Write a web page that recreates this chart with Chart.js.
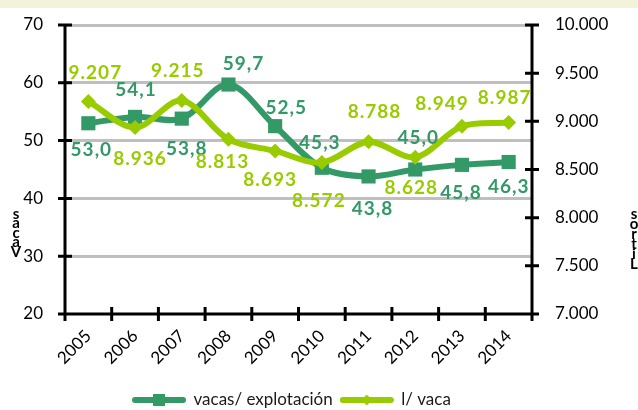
<!DOCTYPE html>
<html><head><meta charset="utf-8">
<script src="https://cdn.jsdelivr.net/npm/chart.js@4.4.1/dist/chart.umd.min.js"></script>
<style>html,body{margin:0;padding:0;background:#fff}</style>
</head><body>
<canvas id="c" width="638" height="410"></canvas>
<script>
// ---- data ----
const categories = ['2005','2006','2007','2008','2009','2010','2011','2012','2013','2014'];
const vacasExplotacion = [53.0, 54.1, 53.8, 59.7, 52.5, 45.3, 43.8, 45.0, 45.8, 46.3];
const litrosVaca = [9207, 8936, 9215, 8813, 8693, 8572, 8788, 8628, 8949, 8987];
const seriesNames = ['vacas/ explotación', 'l/ vaca'];
const leftAxis = {min: 20, max: 70, step: 10};
const rightAxis = {min: 7000, max: 10000, step: 500};
const axisTitles = ['Vacas', 'Litros'];

// ---- styling (label offsets in px relative to the point) ----
const vacasLabelOffsets = [[3,27],[1,-27],[5,30],[15,-21],[11,-18],[-2,-25],[4,32],[3,-32],[-1,28],[0,25]];
const litrosLabelOffsets = [[7,-29],[5,31],[-4,-30],[-6,23],[-5,29],[-3,38],[6,-30],[-4,31],[-20,-22],[-4,-25]];
const DARK = '#339966', LIGHT = '#99cc00';
const FONT = 'Lato';

function fmtDec(v){ return v.toFixed(1).replace('.', ','); }
function fmtThou(v){ v = Math.round(v); const t = Math.floor(v/1000), r = v % 1000; return t > 0 ? t + '.' + String(r).padStart(3,'0') : String(r); }

function legendSample(color, shape){
  const c = document.createElement('canvas'); c.width = 54; c.height = 16;
  const g = c.getContext('2d');
  g.strokeStyle = color; g.lineWidth = 6; g.lineCap = 'round';
  g.beginPath(); g.moveTo(3, 8); g.lineTo(51, 8); g.stroke();
  g.fillStyle = color;
  if (shape === 'rect') { g.fillRect(21, 2, 12, 12); }
  else { g.beginPath(); g.moveTo(27, 2.5); g.lineTo(32.5, 8); g.lineTo(27, 13.5); g.lineTo(21.5, 8); g.closePath(); g.fill(); }
  return c;
}
const samples = [legendSample(DARK, 'rect'), legendSample(LIGHT, 'rectRot')];

const decoPlugin = {
  id: 'deco',
  afterLayout(chart){
    const lg = chart.legend;
    if (lg) { const h = lg.height; lg.left = 125; lg.top = 383.5; lg.bottom = lg.top + h; }
  },
  beforeDraw(chart){
    const ctx = chart.ctx; ctx.save();
    ctx.fillStyle = '#f2f3da'; ctx.fillRect(0, 0, chart.width, 8);
    ctx.restore();
  },
  beforeDatasetsDraw(chart){
    const ctx = chart.ctx, a = chart.chartArea;
    const x = chart.scales.x, y = chart.scales.y, y2 = chart.scales.y2;
    ctx.save();
    ctx.strokeStyle = '#000'; ctx.lineWidth = 3; ctx.lineCap = 'butt';
    ctx.beginPath();
    ctx.moveTo(a.left, a.top - 1.5); ctx.lineTo(a.left, a.bottom + 1.5);
    ctx.moveTo(a.right, a.top - 1.5); ctx.lineTo(a.right, a.bottom + 1.5);
    ctx.moveTo(a.left, a.bottom); ctx.lineTo(a.right, a.bottom);
    y.ticks.forEach(t => { const p = y.getPixelForValue(t.value); ctx.moveTo(a.left - 7, p); ctx.lineTo(a.left + 7, p); });
    y2.ticks.forEach(t => { const p = y2.getPixelForValue(t.value); ctx.moveTo(a.right - 7, p); ctx.lineTo(a.right + 7, p); });
    for (let i = 0; i <= categories.length; i++) { const p = x.getPixelForValue(i - 0.5); ctx.moveTo(p, a.bottom - 7); ctx.lineTo(p, a.bottom + 7); }
    ctx.stroke();
    // stacked axis titles
    ctx.fillStyle = '#000'; ctx.font = 'bold 15px ' + FONT; ctx.textAlign = 'center'; ctx.textBaseline = 'middle';
    const drawStack = (txt, cx, bottomY, step) => {
      [...txt].forEach((ch, i) => ctx.fillText(ch, cx, bottomY - i * step));
    };
    drawStack(axisTitles[0], 16, 252, 9.5);
    drawStack(axisTitles[1], 634, 264, 10);
    ctx.restore();
  },
  afterDatasetsDraw(chart){
    const ctx = chart.ctx; ctx.save();
    ctx.font = 'bold 19px ' + FONT; ctx.textAlign = 'center'; ctx.textBaseline = 'middle';
    try { ctx.letterSpacing = '1px'; } catch(e) {}
    const sets = [[0, vacasLabelOffsets, fmtDec], [1, litrosLabelOffsets, fmtThou]];
    sets.forEach(([di, offs, fmt]) => {
      const ds = chart.data.datasets[di]; const meta = chart.getDatasetMeta(di);
      ctx.fillStyle = ds.borderColor;
      meta.data.forEach((el, i) => ctx.fillText(fmt(ds.data[i]), el.x + offs[i][0], el.y + offs[i][1]));
    });
    ctx.restore();
  }
};

const fixPad = (s, w) => { s.width = w; s.paddingTop = 10; s.paddingBottom = 10; };

new Chart(document.getElementById('c'), {
  type: 'line',
  data: {
    labels: categories,
    datasets: [
      { label: seriesNames[0], data: vacasExplotacion, yAxisID: 'y', order: 1,
        borderColor: DARK, backgroundColor: DARK, borderWidth: 6, tension: 0.33,
        pointStyle: 'rect', pointRadius: 10, pointBackgroundColor: DARK, pointBorderWidth: 0, pointHoverRadius: 10 },
      { label: seriesNames[1], data: litrosVaca, yAxisID: 'y2', order: 0,
        borderColor: LIGHT, backgroundColor: LIGHT, borderWidth: 6, tension: 0.33,
        pointStyle: 'rectRot', pointRadius: 7.5, pointBackgroundColor: LIGHT, pointBorderWidth: 0, pointHoverRadius: 7.5 }
    ]
  },
  options: {
    responsive: false, animation: false, devicePixelRatio: 1,
    layout: { padding: { top: 25, left: 0, right: 0, bottom: 0 } },
    plugins: {
      tooltip: { enabled: false },
      legend: {
        position: 'bottom', align: 'start',
        labels: {
          usePointStyle: true, pointStyleWidth: 52, boxHeight: 17, padding: 8,
          color: '#1a1a1a', font: { family: FONT, size: 17 },
          generateLabels: (chart) => chart.data.datasets.map((ds, i) => ({
            text: ds.label, pointStyle: samples[i], fillStyle: ds.borderColor, strokeStyle: ds.borderColor,
            lineWidth: 0, hidden: false, datasetIndex: i, fontColor: '#1a1a1a'
          }))
        }
      }
    },
    scales: {
      x: {
        type: 'category', offset: true,
        grid: { display: false, drawTicks: false, offset: true }, border: { display: false },
        ticks: { color: '#000', font: { family: FONT, size: 17 }, minRotation: 45, maxRotation: 45, padding: 12, autoSkip: false },
        afterFit: (s) => { s.height = 61; }
      },
      y: {
        position: 'left', min: leftAxis.min, max: leftAxis.max,
        grid: { color: (c) => c.tick && c.tick.value === leftAxis.min ? 'rgba(0,0,0,0)' : '#bfbfbf', lineWidth: 3, drawTicks: false },
        border: { display: false },
        ticks: { stepSize: leftAxis.step, color: '#000', font: { family: FONT, size: 17 }, padding: 22 },
        afterFit: (s) => fixPad(s, 65)
      },
      y2: {
        position: 'right', min: rightAxis.min, max: rightAxis.max,
        grid: { display: false, drawTicks: false, drawOnChartArea: false }, border: { display: false },
        ticks: { stepSize: rightAxis.step, color: '#000', font: { family: FONT, size: 17 }, padding: 23, callback: (v) => fmtThou(v) },
        afterFit: (s) => fixPad(s, 106)
      }
    }
  },
  plugins: [decoPlugin]
});
</script>
</body></html>
